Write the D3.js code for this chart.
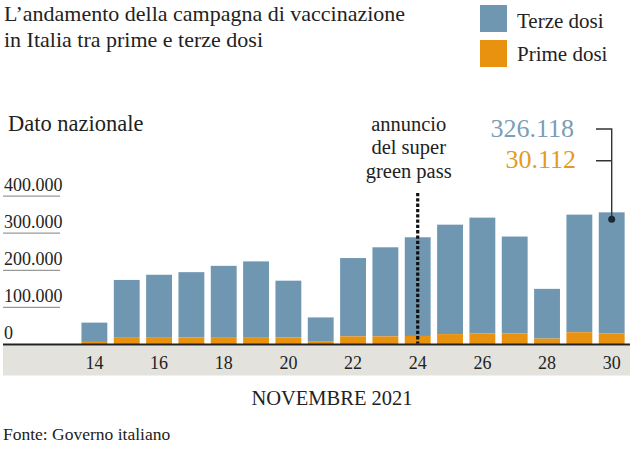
<!DOCTYPE html>
<html><head><meta charset="utf-8">
<script src="https://cdn.jsdelivr.net/npm/d3@7"></script>
<style>
html,body{margin:0;padding:0;background:#fff;}
svg{display:block;font-family:"Liberation Serif","Times New Roman",serif;}
</style></head>
<body><svg id="c" width="630" height="449"></svg>
<script>
const days = [14,15,16,17,18,19,20,21,22,23,24,25,26,27,28,29,30];
const terzeDosi = [52000,154000,168000,176000,192000,204000,153000,64000,211000,240000,266000,295000,312000,261000,134000,317000,326118];
const primeDosi = [7000,20000,20000,19000,20000,20000,19000,9000,22000,22000,23000,28000,30000,30000,16000,33000,30112];
const yTicks = [0,100000,200000,300000,400000];
const xTickDays = [14,16,18,20,22,24,26,28,30];
const labels = {
  title: ["L\u2019andamento della campagna di vaccinazione","in Italia tra prime e terze dosi"],
  legend: ["Terze dosi","Prime dosi"],
  sub: "Dato nazionale",
  annot: ["annuncio","del super","green pass"],
  xTitle: "NOVEMBRE 2021",
  source: "Fonte: Governo italiano"
};
const annotDay = 24;
const highlightDay = 30;

const blue = "#7097b1", orange = "#e8920f", ink = "#222";
const svg = d3.select("#c");
const fmt = d3.format(",");
const itFmt = v => fmt(v).replace(/,/g, ".");

const x = d3.scaleBand().domain(days).range([75, 631.1]).padding(0.2);
const y = d3.scaleLinear().domain([0, 400000]).range([344.5, 196.1]);

// title
svg.append("g").selectAll("text").data(labels.title).join("text")
  .attr("x", 4).attr("y", (d,i)=>21 + i*25.5)
  .attr("font-size", 22).attr("fill", ink).text(d=>d);

// legend
const leg = svg.append("g");
[blue, orange].forEach((c,i)=>{
  leg.append("rect").attr("x",480).attr("y",5+i*35).attr("width",27).attr("height",27).attr("fill",c);
  leg.append("text").attr("x",517).attr("y",28+i*32.5).attr("font-size",21).attr("fill",ink).text(labels.legend[i]);
});

// subtitle
svg.append("text").attr("x",8).attr("y",131).attr("font-size",22.5).attr("fill",ink).text(labels.sub);

// gray band
svg.append("rect").attr("x",3).attr("y",345.5).attr("width",627).attr("height",30).attr("fill","#e3e2dd");

// y ticks
const yg = svg.append("g");
yg.selectAll("line").data(yTicks.filter(d=>d>0)).join("line")
  .attr("x1",3).attr("x2",60).attr("y1",d=>y(d)).attr("y2",d=>y(d))
  .attr("stroke","#999").attr("stroke-width",1.3);
yg.selectAll("text").data(yTicks).join("text")
  .attr("x",4).attr("y",d=>y(d)-5.5).attr("font-size",18).attr("fill",ink)
  .text(d=>itFmt(d));

// bars
const bars = svg.append("g");
bars.selectAll("rect.t").data(days).join("rect").attr("class","t")
  .attr("x",d=>x(d)).attr("width",x.bandwidth())
  .attr("y",(d,i)=>y(terzeDosi[i]+primeDosi[i]))
  .attr("height",(d,i)=>y(primeDosi[i]) - y(terzeDosi[i]+primeDosi[i]))
  .attr("fill",blue);
bars.selectAll("rect.p").data(days).join("rect").attr("class","p")
  .attr("x",d=>x(d)).attr("width",x.bandwidth())
  .attr("y",(d,i)=>y(primeDosi[i]))
  .attr("height",(d,i)=>y(0)-y(primeDosi[i]))
  .attr("fill",orange);

// axis line
svg.append("line").attr("x1",3).attr("x2",630).attr("y1",y(0)).attr("y2",y(0))
  .attr("stroke","#222").attr("stroke-width",2);

// x axis labels
const xa = svg.append("g").attr("transform","translate(0,369.3)")
  .call(d3.axisBottom(x).tickValues(xTickDays).tickSize(0).tickPadding(0));
xa.select(".domain").remove();
xa.selectAll("text").attr("font-size",18).attr("fill",ink)
  .attr("font-family","Liberation Serif, Times New Roman, serif").attr("dy",0).attr("y",0);

// annotation dotted line
const ax = x(annotDay) + x.bandwidth()/2;
svg.append("line").attr("x1",ax).attr("x2",ax).attr("y1",193).attr("y2",y(0)-1)
  .attr("stroke","#111").attr("stroke-width",3.2).attr("stroke-dasharray","3.3,2");
svg.append("g").selectAll("text").data(labels.annot).join("text")
  .attr("x",ax-9).attr("y",(d,i)=>131+i*23.3).attr("text-anchor","middle")
  .attr("font-size",20.5).attr("fill",ink).text(d=>d);

// highlight values
const hi = days.indexOf(highlightDay);
const hx = x(highlightDay) + x.bandwidth()/2;
const topY = y(terzeDosi[hi]+primeDosi[hi]);
svg.append("text").attr("x",574).attr("y",136.7).attr("text-anchor","end")
  .attr("font-size",26).attr("fill","#7b9db6").text(itFmt(terzeDosi[hi]));
svg.append("text").attr("x",576).attr("y",168.3).attr("text-anchor","end")
  .attr("font-size",26).attr("fill","#e39b22").text(itFmt(primeDosi[hi]));
const lc = "#333";
svg.append("path").attr("d",`M596,129H${hx}V${topY+7}M596,160.7H${hx}`)
  .attr("fill","none").attr("stroke",lc).attr("stroke-width",1.4);
svg.append("circle").attr("cx",hx).attr("cy",topY+7).attr("r",3.5).attr("fill","#1c2833");

// x title and source
svg.append("text").attr("x",332).attr("y",405).attr("text-anchor","middle")
  .attr("font-size",20.5).attr("fill",ink).text(labels.xTitle);
svg.append("text").attr("x",3).attr("y",440).attr("font-size",17.5).attr("fill",ink).text(labels.source);
</script></body></html>
